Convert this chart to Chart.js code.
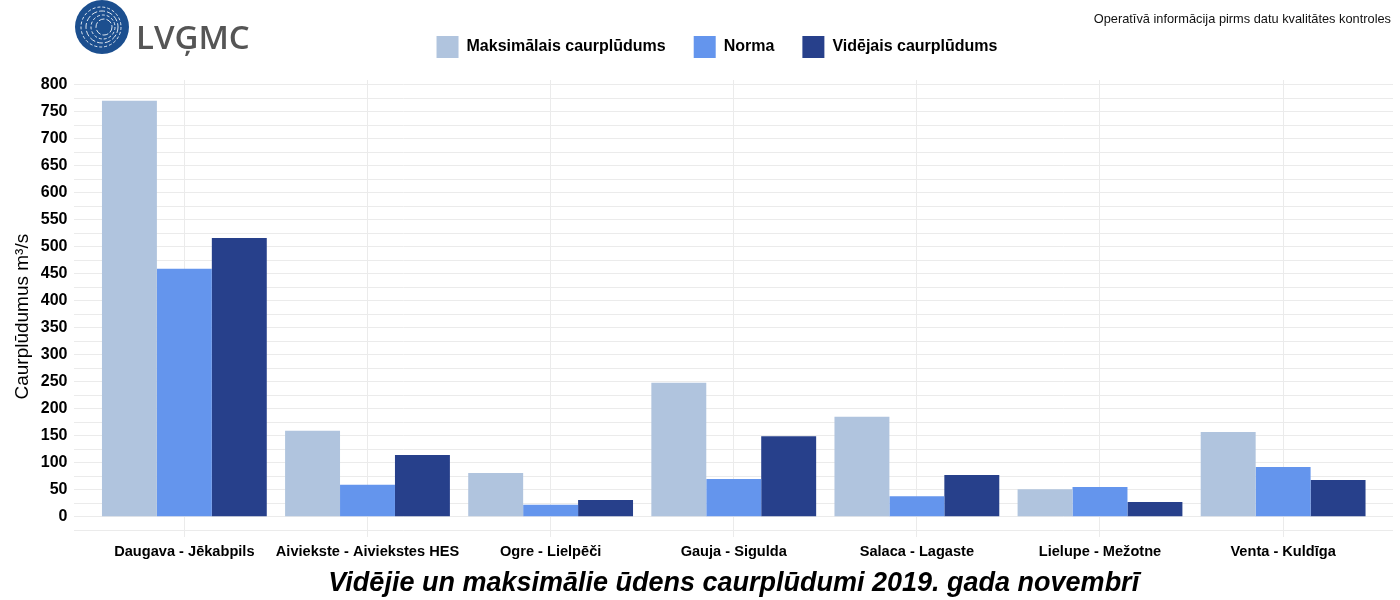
<!DOCTYPE html>
<html>
<head>
<meta charset="utf-8">
<script src="https://cdn.jsdelivr.net/npm/chart.js@4.4.1/dist/chart.umd.min.js"></script>
<style>
  body { margin: 0; background: #fff; }
  #wrap { width: 1400px; height: 600px; }
</style>
</head>
<body>
<div id="wrap"><canvas id="c" width="1400" height="600"></canvas></div>
<script>
var categories = ["Daugava - Jēkabpils", "Aiviekste - Aiviekstes HES", "Ogre - Lielpēči",
  "Gauja - Sigulda", "Salaca - Lagaste", "Lielupe - Mežotne", "Venta - Kuldīga"];
var maxFlow = [770, 159, 81, 248, 185, 51, 157];
var normFlow = [459, 59, 22, 70, 38, 55, 92];
var avgFlow = [516, 114, 31, 149, 77, 27, 68];
var yTicks = [-25, 0, 25, 50, 75, 100, 125, 150, 175, 200, 225, 250, 275, 300, 325, 350, 375,
  400, 425, 450, 475, 500, 525, 550, 575, 600, 625, 650, 675, 700, 725, 750, 775, 800];

function pts(arr) {
  return arr.map(function (v, i) { return { x: i + 1, y: v }; });
}

var FONT = "'Liberation Sans', Arial, sans-serif";

// legend: a bit more room below, and shifted right like the original
var legendTweak = {
  id: 'legendTweak',
  beforeInit: function (chart) {
    var lg = chart.legend;
    var fit = lg.fit;
    lg.fit = function () {
      fit.call(this);
      this.height += 12;
    };
  },
  afterLayout: function (chart) {
    chart.legend.left += 15;
    chart.legend.right += 15;
  }
};

// logo + top right note
var extras = {
  id: 'extras',
  afterDraw: function (chart) {
    var ctx = chart.ctx;
    ctx.save();
    ctx.fillStyle = '#1c4f8f';
    ctx.beginPath();
    ctx.arc(102, 27, 27, 0, Math.PI * 2);
    ctx.fill();
    ctx.strokeStyle = 'rgba(255,255,255,0.85)';
    ctx.lineWidth = 1;
    [8, 12, 16, 20].forEach(function (r, k) {
      ctx.setLineDash(k % 2 ? [3, 2] : [6, 2]);
      ctx.beginPath();
      ctx.arc(104 - k, 27, r, 0, Math.PI * 2);
      ctx.stroke();
    });
    ctx.setLineDash([]);
    ctx.fillStyle = '#555';
    ctx.font = "600 33px 'Open Sans', sans-serif";
    ctx.fillText('LVĢMC', 136, 40);
    ctx.fillStyle = '#111';
    ctx.font = '12.8px ' + FONT;
    ctx.textAlign = 'right';
    ctx.fillText('Operatīvā informācija pirms datu kvalitātes kontroles', 1391, 19);
    ctx.restore();
  }
};

new Chart(document.getElementById('c'), {
  type: 'bar',
  data: {
    datasets: [
      { label: 'Maksimālais caurplūdums', data: pts(maxFlow), backgroundColor: '#B0C4DE' },
      { label: 'Norma', data: pts(normFlow), backgroundColor: '#6495ED' },
      { label: 'Vidējais caurplūdums', data: pts(avgFlow), backgroundColor: '#27408B' }
    ]
  },
  options: {
    responsive: false,
    animation: false,
    layout: { padding: { top: 8, left: 11, right: 7, bottom: 3 } },
    datasets: { bar: { barPercentage: 1, categoryPercentage: 0.9 } },
    plugins: {
      tooltip: { enabled: false },
      legend: {
        position: 'top',
        labels: {
          boxWidth: 22, boxHeight: 22, padding: 28,
          color: '#000',
          font: { family: FONT, size: 16, weight: 'bold' }
        }
      }
    },
    scales: {
      x: {
        type: 'linear',
        min: 0.4, max: 7.6,
        offset: false,
        afterBuildTicks: function (s) {
          s.ticks = categories.map(function (c, i) { return { value: i + 1 }; });
        },
        grid: { color: '#ebebeb', lineWidth: 1, drawTicks: false, offset: false },
        border: { display: false },
        ticks: {
          autoSkip: false, maxRotation: 0, padding: 6, color: '#000',
          font: { family: FONT, size: 14.6, weight: 'bold' },
          callback: function (v) { return categories[v - 1]; }
        },
        title: {
          display: true,
          text: 'Vidējie un maksimālie ūdens caurplūdumi 2019. gada novembrī',
          color: '#000', padding: { top: 3, bottom: 0 },
          font: { family: FONT, size: 27, weight: 'bold', style: 'italic', lineHeight: 1 }
        }
      },
      y: {
        min: -38.5, max: 808.5,
        afterBuildTicks: function (s) {
          s.ticks = yTicks.map(function (v) { return { value: v }; });
        },
        grid: { color: '#ebebeb', lineWidth: 1, drawTicks: false },
        border: { display: false },
        ticks: {
          autoSkip: false, padding: 7, color: '#000',
          font: { family: FONT, size: 16, weight: 'bold' },
          callback: function (v) { return (v >= 0 && v % 50 === 0) ? v : ''; }
        },
        title: {
          display: true,
          text: 'Caurplūdumus m³/s   ',
          color: '#000', padding: { top: 0, bottom: 0 },
          font: { family: FONT, size: 19 }
        }
      }
    }
  },
  plugins: [legendTweak, extras]
});
</script>
</body>
</html>
